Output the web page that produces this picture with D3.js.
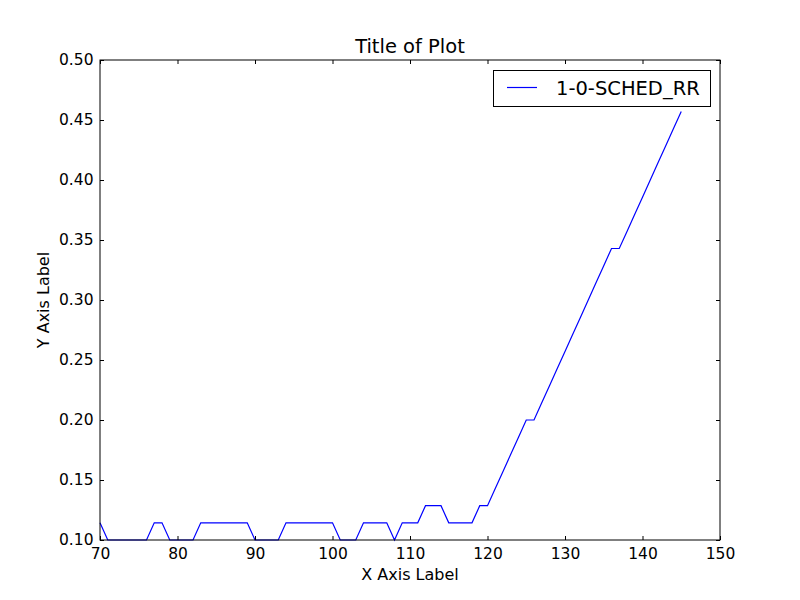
<!DOCTYPE html>
<html>
<head>
<meta charset="utf-8">
<script src="https://cdn.jsdelivr.net/npm/d3@7"></script>
<style>
  html, body { margin: 0; padding: 0; background: #fff; }
  svg { display: block; }
  text { font-family: "DejaVu Sans", sans-serif; fill: #000; }
</style>
</head>
<body>
<svg id="chart" width="800" height="600"></svg>
<script>
// ---- data ----
const xValues = [70,71,72,73,74,75,76,77,78,79,80,81,82,83,84,85,86,87,88,89,
  90,91,92,93,94,95,96,97,98,99,100,101,102,103,104,105,106,107,108,109,
  110,111,112,113,114,115,116,117,118,119,120,121,122,123,124,125,126,127,128,129,
  130,131,132,133,134,135,136,137,138,139,140,141,142,143,144,145];
const yValues = [0.1143,0.1,0.1,0.1,0.1,0.1,0.1,0.1143,0.1143,0.1,0.1,0.1,0.1,0.1143,0.1143,0.1143,0.1143,0.1143,0.1143,0.1143,
  0.1,0.1,0.1,0.1,0.1143,0.1143,0.1143,0.1143,0.1143,0.1143,0.1143,0.1,0.1,0.1,0.1143,0.1143,0.1143,0.1143,0.1,0.1143,
  0.1143,0.1143,0.1286,0.1286,0.1286,0.1143,0.1143,0.1143,0.1143,0.1286,0.1286,0.1429,0.1571,0.1714,0.1857,0.2,0.2,0.2143,0.2286,0.2429,
  0.2571,0.2714,0.2857,0.3,0.3143,0.3286,0.3429,0.3429,0.3571,0.3714,0.3857,0.4,0.4143,0.4286,0.4429,0.4571];
const seriesName = "1-0-SCHED_RR";
const xTicks = [70,80,90,100,110,120,130,140,150];
const yTicks = [0.10,0.15,0.20,0.25,0.30,0.35,0.40,0.45,0.50];
const titleText = "Title of Plot";
const xLabelText = "X Axis Label";
const yLabelText = "Y Axis Label";

// ---- layout ----
const svg = d3.select("#chart");
const pLeft = 100, pRight = 720, pTop = 60, pBottom = 540;
const x = d3.scaleLinear().domain([70,150]).range([pLeft,pRight]);
const y = d3.scaleLinear().domain([0.10,0.50]).range([pBottom,pTop]);
const data = xValues.map((d,i) => ({x: d, y: yValues[i]}));

// line
svg.append("path")
  .datum(data)
  .attr("fill","none")
  .attr("stroke","#0000ff")
  .attr("stroke-width",1.2)
  .attr("d", d3.line().x(d => x(d.x)).y(d => y(d.y)));

// axes (matplotlib classic: inward ticks on all sides)
const tickLen = 4;
const bottomAxis = d3.axisBottom(x).tickValues(xTicks).tickFormat(d3.format("d")).tickSizeInner(-tickLen).tickSizeOuter(0).tickPadding(8);
const topAxis = d3.axisTop(x).tickValues(xTicks).tickFormat("").tickSizeInner(-tickLen).tickSizeOuter(0);
const leftAxis = d3.axisLeft(y).tickValues(yTicks).tickFormat(d3.format(".2f")).tickSizeInner(-tickLen).tickSizeOuter(0).tickPadding(6.5);
const rightAxis = d3.axisRight(y).tickValues(yTicks).tickFormat("").tickSizeInner(-tickLen).tickSizeOuter(0);

function styleAxis(g) {
  g.select(".domain").remove();
  g.selectAll("line").attr("stroke","#000").attr("stroke-width",1);
  g.selectAll("text").attr("font-family","DejaVu Sans, sans-serif").attr("font-size","15.5px").attr("fill","#000");
}
svg.append("g").attr("transform",`translate(0,${pBottom})`).call(bottomAxis).call(styleAxis);
svg.append("g").attr("transform",`translate(0,${pTop})`).call(topAxis).call(styleAxis);
svg.append("g").attr("transform",`translate(${pLeft},0)`).call(leftAxis).call(styleAxis);
svg.append("g").attr("transform",`translate(${pRight},0)`).call(rightAxis).call(styleAxis);

// frame
svg.append("rect")
  .attr("x",pLeft).attr("y",pTop).attr("width",pRight-pLeft).attr("height",pBottom-pTop)
  .attr("fill","none").attr("stroke","#000").attr("stroke-width",1);

// title & labels
svg.append("text").attr("x",(pLeft+pRight)/2).attr("y",53)
  .attr("text-anchor","middle").attr("font-size","19.5px").text(titleText);
svg.append("text").attr("x",(pLeft+pRight)/2).attr("y",580)
  .attr("text-anchor","middle").attr("font-size","16px").text(xLabelText);
svg.append("text").attr("transform",`translate(49,${(pTop+pBottom)/2}) rotate(-90)`)
  .attr("text-anchor","middle").attr("font-size","16px").text(yLabelText);

// legend
const lg = svg.append("g");
lg.append("rect").attr("x",493.5).attr("y",70.5).attr("width",217).attr("height",36)
  .attr("fill","#fff").attr("stroke","#000").attr("stroke-width",1);
lg.append("line").attr("x1",507).attr("x2",537).attr("y1",87.5).attr("y2",87.5)
  .attr("stroke","#0000ff").attr("stroke-width",1.2);
lg.append("text").attr("x",556).attr("y",95).attr("font-size","19.5px").text(seriesName);
</script>
</body>
</html>
